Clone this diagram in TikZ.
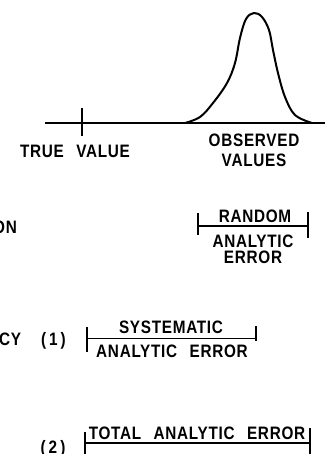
\documentclass[tikz,border=0pt]{standalone}
\usepackage{fontspec}
\newfontfamily\lettering{Liberation Sans}[UprightFont={* Bold},LetterSpace=4,FakeStretch=0.85,WordSpace=2.5]

\begin{document}
\begin{tikzpicture}[x=1pt,y=-1pt,
  lbl/.style={font=\lettering\fontsize{18}{20}\selectfont,inner sep=0pt,anchor=base},
  rule/.style={line width=1.4pt},
  hump/.style={line width=2pt,line join=round}]
  \useasboundingbox (0,0) rectangle (325,454);
  % axis with the true value and the spread of observed values
  \coordinate (axL) at (45,123);
  \coordinate (axR) at (325,123);
  \coordinate (tickT) at (82,108);
  \coordinate (tickB) at (82,136);
  \draw[rule] (axL) -- (axR);
  \draw[rule] (tickT) -- (tickB);
  \draw[hump] plot[smooth,tension=.6] coordinates {(185,123) (200,117) (213,103)
    (227,83) (235,63) (240,38) (246,19) (254,13) (262,17) (269,30) (273,50)
    (278,73) (285,97) (295,115) (312,123)};
  \node[lbl] (truev) at (75,158) {TRUE\ VALUE};
  \node[lbl] (obs) at (254,147) {OBSERVED};
  \node[lbl] (vals) at (254,167) {VALUES};

  % random error
  \node[lbl,anchor=base east] (prec) at (17,233) {ON};
  \coordinate (rndL) at (198,226);
  \coordinate (rndR) at (308,226);
  \draw[rule] (198,213) -- (rndL) -- (198,235);
  \draw[rule] (308,212) -- (rndR) -- (308,238);
  \draw[rule] (rndL) -- (rndR);
  \node[lbl] (rnd) at (255,222) {RANDOM};
  \node[lbl] (rndA) at (253,247) {ANALYTIC};
  \node[lbl] (rndE) at (253,263.5) {ERROR};

  % systematic error
  \node[lbl,anchor=base east] (acc) at (66,345) {CY\hspace{20pt}(\,1\,)};
  \coordinate (sysL) at (87,338.5);
  \coordinate (sysR) at (256,338.5);
  \draw[rule] (87,327) -- (sysL) -- (87,352);
  \draw[rule] (256,326) -- (sysR) -- (256,341);
  \draw[rule] (sysL) -- (sysR);
  \node[lbl] (sys) at (171,333) {SYSTEMATIC};
  \node[lbl] (sysAE) at (172,357) {ANALYTIC\ ERROR};

  % total error
  \node[lbl] (two) at (53,453) {(\,2\,)};
  \coordinate (totL) at (85,443);
  \coordinate (totR) at (310,443);
  \draw[rule] (85,432) -- (totL) -- (85,454);
  \draw[rule] (310,428) -- (totR) -- (310,454);
  \draw[rule] (totL) -- (totR);
  \node[lbl] (tot) at (197,439) {TOTAL\ ANALYTIC\ ERROR};
\end{tikzpicture}
\end{document}
